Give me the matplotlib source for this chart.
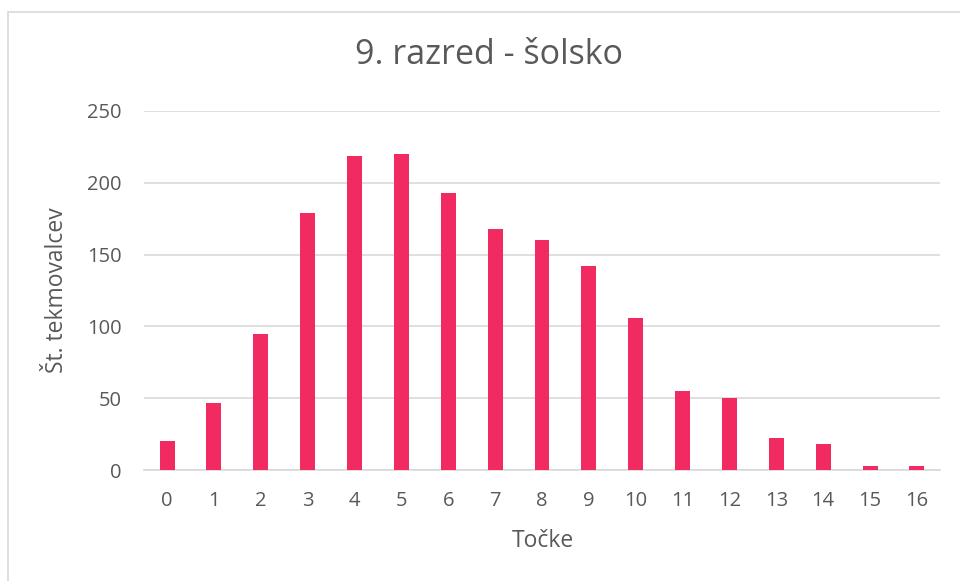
import matplotlib
matplotlib.use("Agg")
import matplotlib.pyplot as plt
from matplotlib.patches import Rectangle

categories = [str(i) for i in range(17)]
values = [20, 47, 95, 179, 219, 220, 193, 168, 160, 142, 106, 55, 50, 22, 18, 3, 3]
yticks = [0, 50, 100, 150, 200, 250]

title = "9. razred - šolsko"
xlabel = "Točke"
ylabel = "Št. tekmovalcev"

bar_color = "#F12B61"
text_color = "#595959"
grid_color = "#D9D9D9"

plt.rcParams['font.family'] = ['Open Sans', 'DejaVu Sans']

fig = plt.figure(figsize=(9.6, 5.81), dpi=100)
fig.patch.set_facecolor("white")

# chart border
fig.add_artist(Rectangle((8 / 960, -0.01), 1.0, 1 - 12 / 581 + 0.01,
                         transform=fig.transFigure, fill=False,
                         edgecolor=grid_color, linewidth=1.2))

ax = fig.add_axes([143.6 / 960, 1 - 470 / 581, (940.4 - 143.6) / 960, (470 - 111) / 581])
x = list(range(len(categories)))
ax.bar(x, values, width=0.32, color=bar_color, zorder=3)

ax.set_xlim(-0.5, len(categories) - 0.5)
ax.set_ylim(0, 250)
ax.set_yticks(yticks)
ax.set_xticks(x)
ax.set_xticklabels(categories)
ax.yaxis.grid(True, color=grid_color, linewidth=1.2, zorder=0)
ax.set_axisbelow(True)
for s in ["top", "right", "left"]:
    ax.spines[s].set_visible(False)
ax.spines["bottom"].set_color(grid_color)
ax.spines["bottom"].set_linewidth(1.2)
ax.tick_params(axis="both", length=0, labelsize=14.5, colors=text_color)
ax.tick_params(axis="x", pad=15)
ax.tick_params(axis="y", pad=16)

fig.text(543 / 960, 1 - 541 / 581, xlabel, fontsize=16.5, color=text_color,
         ha="center", va="center")
fig.text(57 / 960, 1 - 290 / 581, ylabel, fontsize=16.5, color=text_color,
         ha="center", va="center", rotation=90)
fig.text(489 / 960, 1 - 55 / 581, title, fontsize=24.5, color=text_color,
         ha="center", va="center")

fig.savefig("out.png", dpi=100)
